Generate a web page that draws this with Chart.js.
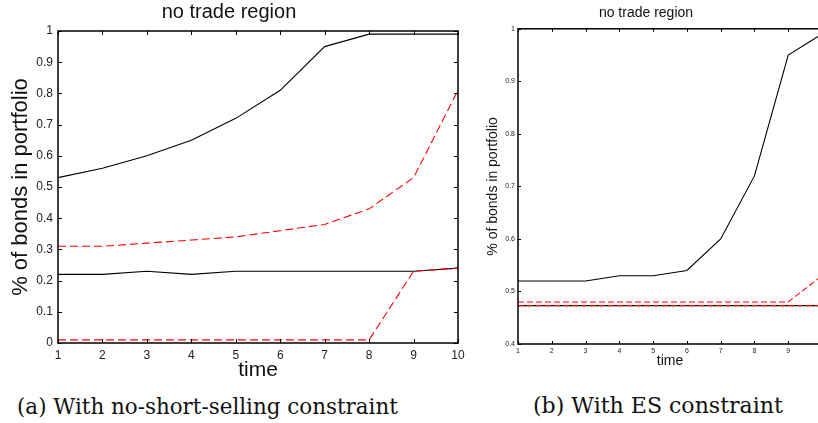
<!DOCTYPE html>
<html><head><meta charset="utf-8">
<script src="https://cdn.jsdelivr.net/npm/chart.js@4"></script>
<style>
html,body{margin:0;padding:0;width:818px;height:423px;overflow:hidden;background:#fff;}
#c1wrap{position:absolute;left:0;top:0;width:470px;height:390px;}
#c2wrap{position:absolute;left:470px;top:0;width:362px;height:390px;}
.cap{position:absolute;font-family:"DejaVu Serif",serif;white-space:nowrap;color:#111;line-height:1;}
</style></head><body>
<div id="c1wrap"><canvas id="c1" width="470" height="390"></canvas></div>
<div id="c2wrap"><canvas id="c2" width="362" height="390"></canvas></div>
<div class="cap" id="capA">(a) With no-short-selling constraint</div>
<div class="cap" id="capB">(b) With ES constraint</div>
<script>
// ---- data ----
const times = ['1','2','3','4','5','6','7','8','9','10'];

// (a) with no-short-selling constraint
const aUpperBlack = [0.53,0.56,0.60,0.65,0.72,0.81,0.95,0.99,0.99,0.99];
const aUpperRed   = [0.31,0.31,0.32,0.33,0.34,0.36,0.38,0.43,0.53,0.81];
const aLowerBlack = [0.22,0.22,0.23,0.22,0.23,0.23,0.23,0.23,0.23,0.24];
const aLowerRed   = [0.01,0.01,0.01,0.01,0.01,0.01,0.01,0.01,0.23,0.24];
const aYTickLabels = ['0','0.1','0.2','0.3','0.4','0.5','0.6','0.7','0.8','0.9','1'];

// (b) with ES constraint
const bUpperBlack = [0.52,0.52,0.52,0.53,0.53,0.54,0.60,0.72,0.95,0.99];
const bUpperRed   = [0.48,0.48,0.48,0.48,0.48,0.48,0.48,0.48,0.48,0.53];
const bLowerBlack = [0.473,0.473,0.473,0.473,0.473,0.473,0.473,0.473,0.473,0.473];
const bLowerRed   = [0.473,0.473,0.473,0.473,0.473,0.473,0.473,0.473,0.473,0.473];
const bYTickLabels = ['0.4','0.5','0.6','0.7','0.8','0.9','1'];

const titleText = 'no trade region';
const yTitleText = '% of bonds in portfolio';
const xTitleText = 'time';

// ---- plugin: box frame + inward tick marks ----
const boxTicks = {
  id: 'boxTicks',
  afterDatasetsDraw(chart, args, o) {
    const {ctx, chartArea: a, scales: {x, y}} = chart;
    ctx.save();
    ctx.strokeStyle = '#000';
    ctx.lineWidth = o.lw;
    ctx.strokeRect(a.left, a.top, a.right - a.left, a.bottom - a.top);
    ctx.lineWidth = 1;
    ctx.beginPath();
    x.ticks.forEach((t, i) => {
      const px = Math.round(x.getPixelForTick(i)) + 0.5;
      ctx.moveTo(px, a.bottom); ctx.lineTo(px, a.bottom - o.len);
      ctx.moveTo(px, a.top); ctx.lineTo(px, a.top + o.len);
    });
    y.ticks.forEach((t, i) => {
      const py = Math.round(y.getPixelForTick(i)) + 0.5;
      ctx.moveTo(a.left, py); ctx.lineTo(a.left + o.len, py);
      ctx.moveTo(a.right, py); ctx.lineTo(a.right - o.len, py);
    });
    ctx.stroke();
    ctx.restore();
  }
};

function ds(data, color, dashed, lw, order) {
  return {data, borderColor: color, borderWidth: lw, borderDash: dashed || [],
          pointRadius: 0, tension: 0, fill: false, order};
}

function makeChart(id, p) {
  return new Chart(document.getElementById(id), {
    type: 'line',
    data: {
      labels: times,
      datasets: [
        ds(p.upperRed, '#ff0000', p.dash, p.lw, 0),
        ds(p.lowerRed, '#ff0000', p.dash, p.lw, 0),
        ds(p.upperBlack, '#000000', null, p.lw, 1),
        ds(p.lowerBlack, '#000000', null, p.lw, 1)
      ]
    },
    options: {
      responsive: false,
      animation: false,
      layout: {padding: {left: 0, top: 0, bottom: 0, right: p.padRight}},
      plugins: {
        legend: {display: false},
        tooltip: {enabled: false},
        title: {display: true, text: titleText, color: '#111',
                font: {family: 'Liberation Sans, Arial, sans-serif', size: p.titleSize, weight: 'normal'},
                padding: {top: p.titlePadTop, bottom: p.titlePadBottom}},
        boxTicks: {lw: p.frameW, len: p.tickLen}
      },
      scales: {
        x: {
          type: 'category', offset: false,
          grid: {display: false, drawTicks: false},
          border: {display: false},
          ticks: {autoSkip: false, maxRotation: 0, padding: p.xTickPad, color: '#222',
                  font: {family: 'Liberation Sans, Arial, sans-serif', size: p.tickSize}},
          title: {display: true, text: xTitleText, color: '#111',
                  font: {family: 'Liberation Sans, Arial, sans-serif', size: p.xTitleSize},
                  padding: {top: 0, bottom: p.xTitlePadBottom}},
          afterFit(s) { s.height = p.xHeight; }
        },
        y: {
          type: 'linear', min: p.yMin, max: p.yMax,
          grid: {display: false, drawTicks: false},
          border: {display: false},
          ticks: {stepSize: 0.1, padding: p.yTickPad, color: '#222',
                  font: {family: 'Liberation Sans, Arial, sans-serif', size: p.tickSize},
                  callback: (v, i) => p.yLabels[i]},
          title: {display: true, text: yTitleText, color: '#111',
                  font: {family: 'Liberation Sans, Arial, sans-serif', size: p.yTitleSize},
                  padding: {top: p.yTitlePadTop, bottom: 0}},
          afterFit(s) { s.width = p.yWidth; }
        }
      }
    },
    plugins: [boxTicks]
  });
}

makeChart('c1', {
  upperBlack: aUpperBlack, upperRed: aUpperRed, lowerBlack: aLowerBlack, lowerRed: aLowerRed,
  yLabels: aYTickLabels, yMin: 0, yMax: 1,
  dash: [8, 4], lw: 1.1, frameW: 1.5, tickLen: 4,
  padRight: 12, titleSize: 20, titlePadTop: 0, titlePadBottom: 7,
  tickSize: 12, xTickPad: 5, yTickPad: 5,
  xTitleSize: 21, xTitlePadBottom: 7, xHeight: 47,
  yTitleSize: 22, yTitlePadTop: 8, yWidth: 58
});

makeChart('c2', {
  upperBlack: bUpperBlack, upperRed: bUpperRed, lowerBlack: bLowerBlack, lowerRed: bLowerRed,
  yLabels: bYTickLabels, yMin: 0.4, yMax: 1,
  dash: [6, 3], lw: 1.1, frameW: 1.5, tickLen: 3,
  padRight: 10, titleSize: 14, titlePadTop: 5, titlePadBottom: 7,
  tickSize: 7, xTickPad: 3, yTickPad: 3,
  xTitleSize: 14, xTitlePadBottom: 20, xHeight: 46,
  yTitleSize: 14, yTitlePadTop: 15, yWidth: 48
});

// captions: fit to measured widths
function fitCaption(id, left, width, baseline) {
  const el = document.getElementById(id);
  el.style.fontSize = '20px';
  const w = el.getBoundingClientRect().width;
  const size = 20 * width / w;
  el.style.fontSize = size + 'px';
  el.style.left = left + 'px';
  el.style.top = (baseline - size * 0.8) + 'px';
}
fitCaption('capA', 17, 381, 413);
fitCaption('capB', 533, 250, 413);
</script>
</body></html>
